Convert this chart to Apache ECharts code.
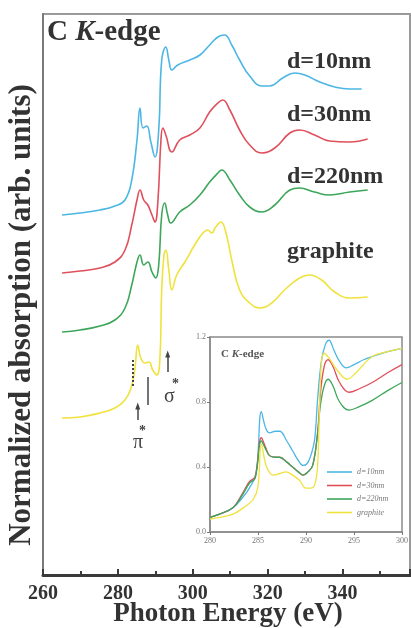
<!DOCTYPE html>
<html>
<head>
<meta charset="utf-8">
<script src="https://cdn.jsdelivr.net/npm/echarts@6/dist/echarts.min.js"></script>
<style>
  html, body { margin: 0; padding: 0; background: #fff; }
  #chart { width: 411px; height: 628px; }
</style>
</head>
<body>
<div id="chart"></div>
<script>
// main panel: [photon energy (eV), offset absorption (arb.)]
const d10 = [
  [265.1, 360], [269.9, 362], [275.2, 365], [279.2, 369], [281.9, 375], [283.7, 395],
  [285.1, 435], [285.9, 467], [286.7, 447], [287.7, 449], [288.8, 433], [289.9, 418],
  [290.9, 445], [291.7, 515], [292.8, 528], [293.6, 515], [294.4, 505], [296.0, 510],
  [299.2, 515], [301.9, 520], [304.5, 530], [306.7, 538], [308.5, 540], [310.4, 530],
  [312.5, 515], [315.2, 499], [318.4, 489], [320.5, 489], [324.0, 497], [327.2, 502],
  [329.9, 500], [333.9, 493], [337.9, 488], [341.9, 486], [345.1, 486]
];
const d30 = [
  [265.1, 302], [269.9, 304], [275.2, 307], [279.2, 313], [281.9, 325], [283.7, 350],
  [285.1, 375], [285.9, 385], [286.9, 375], [288.0, 370], [289.1, 360], [289.9, 353],
  [290.7, 375], [291.5, 435], [292.0, 447], [292.8, 440], [294.4, 423], [296.5, 435],
  [299.2, 440], [301.9, 447], [304.5, 463], [306.7, 472], [308.0, 475], [309.9, 465],
  [312.5, 445], [315.2, 430], [318.4, 422], [321.9, 427], [325.9, 442], [328.5, 445],
  [332.5, 440], [336.5, 434], [341.9, 433], [346.7, 436]
];
const d220 = [
  [265.1, 243], [269.9, 245], [275.2, 249], [279.2, 255], [281.9, 267], [283.7, 290],
  [285.1, 313], [285.9, 320], [286.9, 310], [288.0, 313], [289.1, 303], [290.1, 297],
  [290.9, 310], [291.7, 360], [292.5, 372], [293.3, 360], [294.1, 352], [296.5, 363],
  [299.2, 370], [301.9, 380], [304.5, 393], [306.7, 402], [307.7, 405], [309.9, 395],
  [312.5, 380], [315.2, 368], [318.4, 363], [321.9, 370], [325.9, 385], [328.5, 387],
  [332.5, 383], [336.5, 380], [341.9, 383], [346.7, 385]
];
const graphite = [
  [265.1, 157], [269.9, 158], [275.2, 162], [279.2, 167], [281.9, 175], [283.5, 187],
  [284.5, 205], [285.3, 230], [286.1, 217], [287.2, 212], [288.3, 213], [289.3, 205],
  [290.4, 200], [291.2, 215], [291.7, 285], [292.3, 320], [292.8, 325], [293.6, 305],
  [294.4, 285], [295.7, 300], [297.9, 313], [300.5, 330], [302.7, 342], [304.0, 345],
  [305.1, 342], [306.1, 348], [307.5, 353], [308.8, 343], [310.4, 315], [312.5, 285],
  [315.2, 272], [317.9, 267], [321.1, 272], [324.5, 285], [328.5, 297], [331.2, 300],
  [334.4, 295], [337.9, 283], [341.9, 277], [346.7, 278]
];

// inset: normalized absorption
const in10 = [
  [280, 0.09], [281, 0.11], [282.4, 0.15], [283.5, 0.22], [284.1, 0.27], [284.8, 0.36],
  [285.35, 0.74], [285.8, 0.64], [286.2, 0.61], [286.8, 0.62], [287.25, 0.62], [288, 0.56],
  [288.6, 0.50], [289.2, 0.44], [289.7, 0.41], [290.1, 0.42], [290.5, 0.47], [290.9, 0.57],
  [291.2, 0.81], [291.6, 1.05], [292.0, 1.15], [292.4, 1.18], [292.9, 1.12], [293.5, 1.05],
  [294.2, 1.01], [295, 1.03], [296, 1.06], [296.9, 1.08], [298.5, 1.11], [300, 1.13]
];
const in30 = [
  [280, 0.09], [281, 0.11], [282.4, 0.15], [283.4, 0.24], [284.1, 0.31], [284.7, 0.34],
  [285.35, 0.58], [285.8, 0.52], [286.2, 0.47], [286.8, 0.46], [287.25, 0.46], [288, 0.43],
  [288.6, 0.40], [289.2, 0.37], [289.7, 0.35], [290.2, 0.37], [290.7, 0.41], [291.2, 0.61],
  [291.5, 0.85], [291.9, 1.02], [292.3, 1.06], [292.8, 1.02], [293.5, 0.92], [294.5, 0.86],
  [295.5, 0.88], [296.9, 0.92], [298.5, 0.98], [300, 1.03]
];
const in220 = [
  [280, 0.09], [281, 0.11], [282.4, 0.15], [283.4, 0.23], [284.1, 0.30], [284.7, 0.33],
  [285.35, 0.56], [285.8, 0.51], [286.2, 0.47], [286.8, 0.46], [287.25, 0.46], [288, 0.43],
  [288.6, 0.40], [289.2, 0.37], [289.7, 0.35], [290.2, 0.37], [290.7, 0.41], [291.2, 0.60],
  [291.5, 0.78], [291.9, 0.90], [292.3, 0.94], [292.8, 0.90], [293.5, 0.80], [294.5, 0.75],
  [295.5, 0.77], [296.9, 0.81], [298.5, 0.87], [300, 0.92]
];
const inGraphite = [
  [280, 0.08], [281, 0.09], [282.4, 0.11], [283.5, 0.15], [284.5, 0.20], [285.0, 0.28],
  [285.35, 0.54], [285.9, 0.40], [286.6, 0.35], [287.3, 0.36], [287.9, 0.37], [288.6, 0.35],
  [289.3, 0.32], [290.0, 0.27], [290.5, 0.27], [290.9, 0.29], [291.2, 0.40], [291.4, 0.75],
  [291.6, 1.04], [291.9, 1.10], [292.4, 1.07], [293.2, 1.00], [294.3, 0.94], [295.2, 0.98],
  [296.9, 1.08], [298.5, 1.11], [300, 1.13]
];

const names = ['d=10nm', 'd=30nm', 'd=220nm', 'graphite'];
const colors = ['#4cb6e4', '#e0505c', '#3da65a', '#f0e23c'];
const mainTicks = [260, 280, 300, 320, 340];
const insetXTicks = [280, 285, 290, 295, 300];
const insetYTicks = [0.0, 0.4, 0.8, 1.2];

const serif = 'Liberation Serif';
const chart = echarts.init(document.getElementById('chart'));

const mainSeries = [d10, d30, d220, graphite].map((data, i) => ({
  name: names[i],
  type: 'line',
  xAxisIndex: 0,
  yAxisIndex: 0,
  data: data,
  symbol: 'none',
  smooth: 0.45,
  lineStyle: { color: colors[i], width: 1.6 },
  itemStyle: { color: colors[i] },
  z: 3
}));

// pi* / sigma* markers on the graphite curve
mainSeries[3].markLine = {
  silent: true,
  symbol: 'none',
  label: { show: false },
  lineStyle: { color: '#444', width: 1.5, type: 'solid' },
  data: [
    [{ coord: [284.0, 215], lineStyle: { type: 'dotted', width: 2 } }, { coord: [284.0, 188] }],
    [{ coord: [288.0, 198] }, { coord: [288.0, 170] }],
    [{ coord: [285.3, 155], symbol: 'none' }, { coord: [285.3, 169], symbol: 'triangle', symbolSize: [5, 7] }],
    [{ coord: [293.3, 203], symbol: 'none' }, { coord: [293.3, 221], symbol: 'triangle', symbolSize: [5, 7] }]
  ]
};

const insetSeries = [in10, in30, in220, inGraphite].map((data, i) => ({
  name: names[i],
  type: 'line',
  xAxisIndex: 1,
  yAxisIndex: 1,
  data: data,
  symbol: 'none',
  smooth: 0.4,
  lineStyle: { color: colors[i], width: 1.3 },
  itemStyle: { color: colors[i] },
  z: 6
}));

chart.setOption({
  animation: false,
  backgroundColor: '#fff',
  grid: [
    { left: 43, right: 1, top: 14, bottom: 53, show: true, borderColor: '#9a9a9a', borderWidth: 2 },
    { left: 210, top: 337, width: 193, height: 195, show: true, backgroundColor: '#fff',
      borderColor: '#8a8a8a', borderWidth: 1.5, z: 5 }
  ],
  xAxis: [
    {
      gridIndex: 0, type: 'value', min: 260, max: 358, interval: 20,
      axisLine: { lineStyle: { color: '#3a3a3a', width: 3 } },
      axisTick: { inside: true, length: 6, lineStyle: { color: '#3a3a3a', width: 2 } },
      minorTick: { show: true, splitNumber: 2, length: 4, lineStyle: { color: '#3a3a3a', width: 2 } },
      splitLine: { show: false },
      axisLabel: {
        fontFamily: serif, fontWeight: 'bold', fontSize: 20, color: '#333', margin: 9,
        showMaxLabel: false,
        formatter: v => mainTicks.includes(v) ? String(v) : ''
      }
    },
    {
      gridIndex: 1, type: 'value', min: 280, max: 300, interval: 5, z: 6,
      axisLine: { lineStyle: { color: '#8a8a8a', width: 1.5 } },
      axisTick: { length: 3, lineStyle: { color: '#777' } },
      splitLine: { show: false },
      axisLabel: {
        fontFamily: serif, fontSize: 8, color: '#777', margin: 5,
        formatter: v => insetXTicks.includes(v) ? String(v) : ''
      }
    }
  ],
  yAxis: [
    {
      gridIndex: 0, type: 'value', min: 0, max: 561,
      axisLine: { show: true, lineStyle: { color: '#7a7a7a', width: 2 } },
      axisTick: { show: false },
      axisLabel: { show: false },
      splitLine: { show: false }
    },
    {
      gridIndex: 1, type: 'value', min: 0, max: 1.2, interval: 0.4, z: 6,
      axisLine: { show: true, lineStyle: { color: '#8a8a8a', width: 1.5 } },
      axisTick: { show: true, length: 3, lineStyle: { color: '#777' } },
      splitLine: { show: false },
      axisLabel: {
        fontFamily: serif, fontSize: 8, color: '#777', margin: 4,
        formatter: v => insetYTicks.some(t => Math.abs(t - v) < 1e-6) ? v.toFixed(1) : ''
      }
    }
  ],
  legend: {
    data: names,
    orient: 'vertical',
    left: 322,
    top: 463,
    icon: 'path://M0,0 H25 V1.6 H0 Z',
    itemWidth: 25,
    itemHeight: 8,
    itemGap: 5.5,
    selectedMode: false,
    textStyle: { fontFamily: serif, fontStyle: 'italic', fontSize: 8, color: '#777' },
    z: 7
  },
  graphic: [
    {
      type: 'text', left: 47, top: 18, z: 10,
      style: {
        text: '{n|C }{k|K}{n|-edge}',
        rich: {
          n: { fontFamily: serif, fontWeight: 'bold', fontSize: 29, fill: '#333' },
          k: { fontFamily: serif, fontWeight: 'bold', fontStyle: 'italic', fontSize: 29, fill: '#333' }
        }
      }
    },
    {
      type: 'text', left: 221, top: 349, z: 10,
      style: {
        text: '{n|C }{k|K}{n|-edge}',
        rich: {
          n: { fontFamily: serif, fontWeight: 'bold', fontSize: 11, fill: '#555' },
          k: { fontFamily: serif, fontWeight: 'bold', fontStyle: 'italic', fontSize: 11, fill: '#555' }
        }
      }
    },
    { type: 'text', left: 287, top: 50, z: 10,
      style: { text: 'd=10nm', fontFamily: serif, fontWeight: 'bold', fontSize: 24, fill: '#333' } },
    { type: 'text', left: 287, top: 103, z: 10,
      style: { text: 'd=30nm', fontFamily: serif, fontWeight: 'bold', fontSize: 24, fill: '#333' } },
    { type: 'text', left: 287, top: 165, z: 10,
      style: { text: 'd=220nm', fontFamily: serif, fontWeight: 'bold', fontSize: 24, fill: '#333' } },
    { type: 'text', left: 287, top: 240, z: 10,
      style: { text: 'graphite', fontFamily: serif, fontWeight: 'bold', fontSize: 24, fill: '#333' } },
    { type: 'text', left: 133, top: 433, z: 10,
      style: { text: 'π', fontFamily: serif, fontSize: 20, fill: '#444' } },
    { type: 'text', left: 139, top: 424, z: 10,
      style: { text: '*', fontFamily: serif, fontWeight: 'bold', fontSize: 14, fill: '#444' } },
    { type: 'text', left: 164, top: 387, z: 10,
      style: { text: 'σ', fontFamily: serif, fontSize: 20, fill: '#444' } },
    { type: 'text', left: 172, top: 377, z: 10,
      style: { text: '*', fontFamily: serif, fontWeight: 'bold', fontSize: 14, fill: '#444' } },
    {
      type: 'text', x: 22, y: 315, rotation: Math.PI / 2, z: 10,
      style: {
        text: 'Normalized absorption (arb. units)',
        fontFamily: serif, fontWeight: 'bold', fontSize: 31, fill: '#333',
        align: 'center', verticalAlign: 'middle'
      }
    },
    {
      type: 'text', x: 228, y: 614, z: 10,
      style: {
        text: 'Photon Energy (eV)',
        fontFamily: serif, fontWeight: 'bold', fontSize: 27, fill: '#333',
        align: 'center', verticalAlign: 'middle'
      }
    }
  ],
  series: mainSeries.concat(insetSeries)
});
</script>
</body>
</html>
